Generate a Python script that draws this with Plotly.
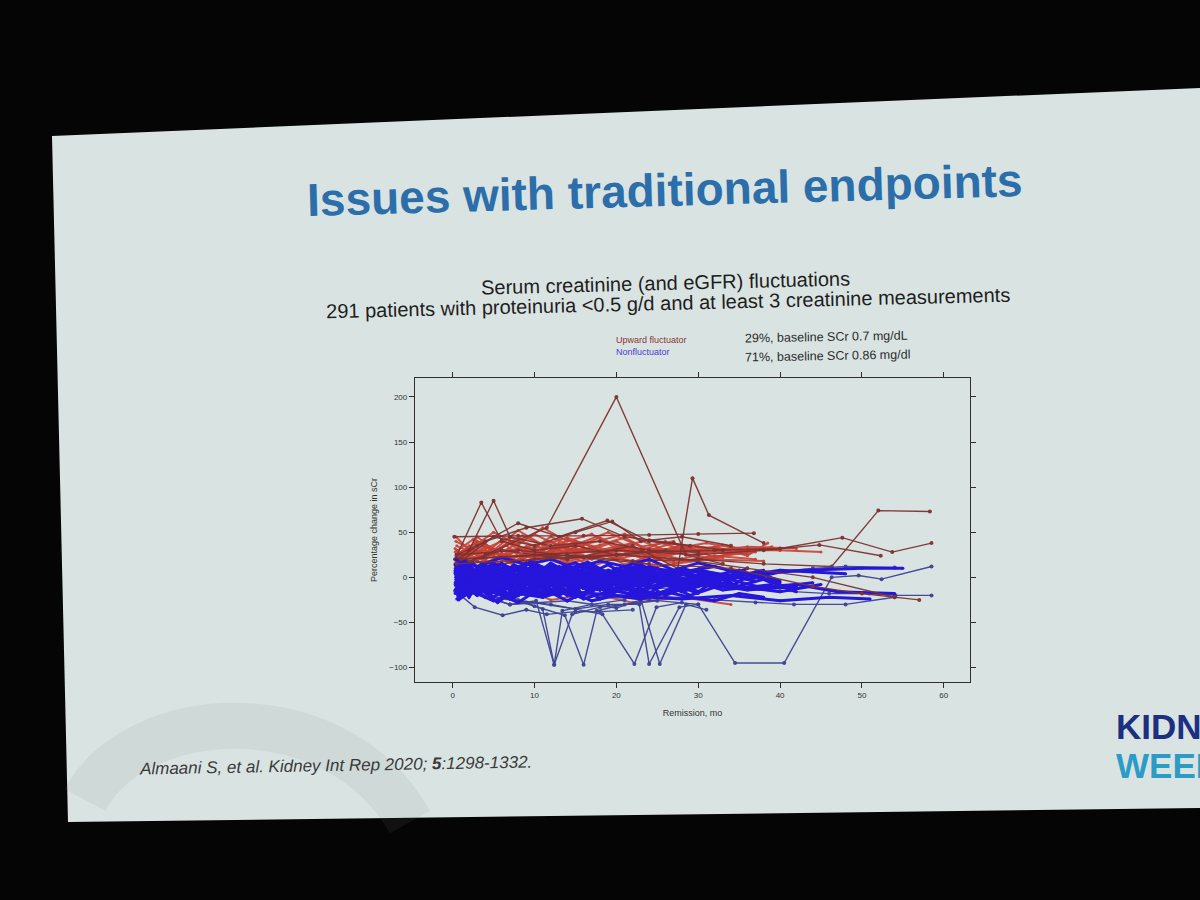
import plotly.graph_objects as go

# ---- data (remission month, % change in sCr) ----
# upward fluctuators, main band
up_months = [
    [0.3, 2, 4, 7, 10, 13, 17, 21, 25, 30],
    [0.5, 3, 6, 9, 12, 16, 20, 24, 28],
    [0.4, 2.5, 5, 8, 11, 14, 18, 22, 27, 32, 36],
    [0.6, 3, 6, 10, 14, 18, 22, 26],
    [0.3, 2, 4.5, 7, 10, 13, 16, 20, 24, 28, 32, 36, 38.5],
    [0.5, 3.5, 7, 11, 15, 19, 24, 30, 35],
    [0.4, 2, 4, 6.5, 9, 12, 15, 18, 21, 25],
    [0.6, 3, 6, 9, 13, 17, 22, 27, 32, 37],
    [0.3, 2.5, 5.5, 8.5, 12, 15.5, 19, 23, 27],
    [0.5, 2, 4, 6, 9, 12, 16, 20, 25, 31, 37],
    [0.4, 3, 7, 11, 16, 21, 26, 31, 36],
    [0.6, 2.5, 5, 8, 11, 14, 17, 21, 25, 29, 33],
    [0.3, 1.5, 3, 5, 8, 11, 14, 18, 22],
    [0.5, 4, 8, 12, 16, 20, 24, 28, 32, 36, 40],
    [0.4, 2, 5, 8, 11, 14, 17, 20],
    [0.6, 3, 6, 10, 14, 19, 25, 31, 38],
    [0.5, 3, 6, 9, 12, 15, 18, 21, 24, 27, 30, 33, 36],
    [0.3, 2, 4, 7, 10, 14, 19, 24, 29, 34, 39],
    [0.5, 5, 10, 15, 20, 25, 30, 35, 40, 45],
    [0.4, 6, 12, 18, 24, 30, 36, 42],
    [0.5, 3, 7, 10, 14, 17, 21, 26],
    [0.5, 4, 8, 12, 17, 22, 28, 34],
]
up_change = [
    [20, 35, 22, 40, 25, 38, 20, 35, 24, 30],
    [30, 18, 42, 26, 45, 28, 40, 22, 36],
    [15, 28, 12, 32, 18, 42, 25, 34, 18, 30, 26],
    [25, 40, 28, 48, 30, 44, 26, 40],
    [10, 25, 16, 30, 20, 36, 22, 32, 18, 28, 34, 24, 38],
    [35, 22, 38, 24, 40, 30, 42, 26, 32],
    [18, 32, 20, 36, 16, 30, 38, 24, 34, 20],
    [22, 10, 26, 14, 30, 12, 28, 16, 24, 20],
    [28, 42, 30, 46, 32, 38, 50, 34, 40],
    [12, 28, 36, 22, 34, 26, 32, 20, 30, 22, 28],
    [40, 28, 44, 32, 36, 48, 30, 38, 30],
    [16, 30, 24, 12, 28, 20, 34, 14, 26, 18, 22],
    [32, 20, 45, 30, 52, 36, 44, 30, 38],
    [20, 30, 18, 34, 22, 30, 26, 36, 22, 32, 30],
    [45, 30, 50, 36, 55, 40, 48, 32],
    [8, 22, 14, 26, 16, 24, 12, 20, 18],
    [26, 38, 24, 34, 40, 28, 36, 44, 30, 38, 28, 36, 30],
    [14, 24, 34, 20, 30, 18, 28, 22, 32, 26, 34],
    [18, 26, 22, 30, 24, 28, 34, 30, 30, 28],
    [24, 30, 34, 28, 32, 28, 34, 32],
    [-5, 10, -8, 5, -12, 2, -10, 0],
    [-15, -20, -10, -25, -18, -28, -22, -30],
]

# upward fluctuators that stand out (spikes, long follow-up)
up_out_months = [
    [0.2, 8, 16, 24, 30, 36.8],
    [0.5, 4, 11.5, 20, 28.5, 33],
    [1, 6, 14, 22, 27.5, 29.3, 31.3, 38],
    [0.3, 3.5, 6, 10, 15, 20, 26],
    [0.5, 2, 5, 7, 12, 18, 24, 30],
    [0.5, 3, 8, 13, 18.9, 24, 29],
    [0.4, 4, 9, 15.8, 21, 27, 33],
    [0.5, 6, 14, 22, 30, 38, 46.3, 52, 58.3],
    [0.5, 8, 16, 24, 32, 40, 47.6, 53.7, 58.5],
    [0.5, 10, 20, 30, 38, 44.8, 52.3],
    [0.6, 5, 10, 15, 19.5, 23, 28, 34],
]
up_out_change = [
    [45, 46, 46, 47, 48, 49],
    [10, 25, 55, 200, 25, 15],
    [15, 30, 20, 35, 10, 110, 69, 38],
    [20, 83, 40, 30, 35, 25, 30],
    [15, 30, 85, 45, 35, 40, 30, 28],
    [25, 35, 60, 45, 63, 40, 35],
    [20, 40, 55, 65, 45, 38, 30],
    [20, 15, 25, 18, 20, 15, 12, 74, 73],
    [25, 30, 22, 28, 30, 32, 44, 28, 38],
    [20, 25, 30, 25, 30, 36, 24],
    [15, 45, 35, 50, 62, 40, 45, 35],
]

# upward fluctuators that drift down late (show over the blue)
up_late_months = [
    [0.5, 10, 20, 28, 36, 44, 54],
    [1, 12, 24, 34, 44, 50, 57],
]
up_late_change = [
    [15, 20, 25, 20, 10, 0, -22],
    [20, 25, 15, 10, -10, -18, -25],
]

# nonfluctuators, main band
non_months = [
    [0.3, 2, 4, 7, 10, 13, 17, 21, 25],
    [0.5, 3, 6, 9, 12, 16, 20, 24, 28, 32],
    [0.4, 1.5, 3.5, 5, 8, 11, 14, 18, 23, 29, 35],
    [0.6, 2.5, 5, 8.5, 12, 15.5, 19, 22.5, 27],
    [0.3, 2, 4.5, 7, 9.5, 13, 16, 20, 24, 30, 36, 40],
    [0.5, 3, 6, 9, 13, 18, 24, 31],
    [0.4, 2, 4, 6, 9, 12, 15, 19, 23, 26, 30, 34, 38],
    [0.7, 3, 5.5, 8, 11, 14.5, 18, 21],
    [0.3, 1.5, 3, 5, 7.5, 10, 13, 16.5, 20, 24, 28],
    [0.5, 2.5, 5, 7.5, 10.5, 14, 17.5, 21, 25, 29, 33],
    [0.4, 2, 4, 7, 10, 14, 19, 25, 31, 37],
    [0.6, 3, 6, 10, 14, 18, 23],
    [0.3, 2, 4.5, 7, 10, 13, 16, 19, 22, 25, 28, 31, 34, 37, 40],
    [0.5, 1.5, 3, 5, 8, 11, 15, 20, 26, 32, 38, 44],
    [0.4, 2.5, 5, 8, 11, 14, 17, 20, 24, 28, 33],
    [0.6, 3.5, 7, 10.5, 14, 18, 22, 26, 30],
    [0.3, 2, 4, 6.5, 9, 12, 15, 18.5, 22, 26, 30, 35],
    [0.5, 2, 4, 6, 8, 11, 14, 17, 21],
    [0.4, 3, 6, 9, 12, 16, 20, 24, 28, 32, 36],
    [0.7, 2.5, 5, 8, 12, 16, 21, 27, 33, 39],
    [0.3, 1.5, 3.5, 6, 9, 12.5, 16, 19.5, 23, 27],
    [0.5, 3, 5.5, 8, 11, 14, 17, 20, 23, 26, 29, 32, 35],
    [0.4, 2, 4, 7, 10, 13, 17, 22, 27],
    [0.6, 2.5, 4.5, 7, 10, 13, 16, 19, 22, 25],
    [0.3, 2, 4.5, 7.5, 11, 15, 19, 24, 30, 36, 42],
    [0.5, 2, 3.5, 6, 9, 12, 15, 18, 21, 24, 27, 30],
    [0.4, 3, 6, 9, 12, 15, 19, 23, 28, 34],
    [0.6, 2, 4, 6, 9, 12, 15, 18, 22, 26, 31],
    [0.3, 2.5, 5, 8, 11, 14, 18, 22, 26, 30, 34, 38, 42],
    [0.5, 1.5, 3, 5, 7, 9, 12, 15, 18, 22],
    [0.4, 3, 6.5, 10, 14, 18, 23, 28, 33, 38],
    [0.7, 2.5, 5, 8, 11, 15, 19, 23],
    [0.3, 2, 4, 6, 8.5, 11, 14, 17, 20, 24, 28, 32, 36, 40],
    [0.5, 3, 6, 9, 12, 15, 18, 21, 25, 29],
    [0.4, 2, 4, 7, 10, 13, 16, 20, 25, 30, 35, 40, 45],
    [0.6, 2.5, 5, 7.5, 10, 13, 16, 19.5, 23, 27, 31, 35, 39],
    [0.5, 6, 12, 18, 24, 30, 36, 42, 47, 54],
    [0.5, 8, 16, 24, 32, 38, 43, 50, 55],
    [0.5, 6, 12, 20, 28, 34, 40, 46, 51],
    [0.4, 3, 6, 9, 12, 15, 18, 21, 24, 27, 30, 33],
    [0.5, 2.5, 5, 8, 11, 14, 17, 20, 23, 26, 29, 32, 35, 38],
    [0.3, 2, 4, 6, 8, 10, 12, 14, 16, 18, 20],
    [0.6, 4, 8, 12, 16, 20, 24, 28, 32, 36, 40, 44, 48],
]
non_change = [
    [5, -8, 10, -3, 12, -6, 4, -10, 2],
    [-12, 3, -15, 8, -5, 14, -9, 6, -14, 0],
    [10, -5, 15, -12, 4, -18, 9, -4, 12, -8, 5],
    [-20, -5, -22, 0, -14, 6, -18, 3, -10],
    [15, 0, 12, -6, 18, 2, -12, 10, -4, 8, -2, 6],
    [-5, -20, -2, -16, 3, -12, -22, -6],
    [0, 12, -10, 6, -14, 10, -3, 14, -8, 4, -16, 8, -2],
    [-25, -10, -28, -8, -20, -2, -24, -12],
    [8, 18, 4, 16, -2, 14, 6, 17, 0, 12, 3],
    [-15, 2, -8, -22, -4, -16, 5, -12, -2, -20, -8],
    [2, -14, 6, -10, 10, -8, 8, -12, 6, -4],
    [18, 5, 15, -2, 12, 0, 14],
    [-8, 6, -18, 2, -12, 8, -20, 4, -6, 10, -14, 0, -10, 6, -4],
    [-2, 10, -6, 12, -10, 4, -14, 6, -8, 2, -12, -6],
    [12, -4, 8, -16, 6, -10, 12, -6, 10, -12, 2],
    [-18, -6, -24, -10, -26, -8, -20, -4, -18],
    [4, -10, 14, -4, 8, -18, 2, -8, 16, -2, 8, -10],
    [-10, 8, -4, 16, -12, 0, -20, 8, -6],
    [6, -16, 2, -8, 14, -12, 4, -18, 8, -6, 10],
    [-22, -12, 0, -18, -6, -24, -10, 2, -14, -8],
    [14, -2, 10, 0, 16, -6, 10, -2, 14, -4],
    [-6, 4, -14, 10, -2, 6, -16, 0, -10, 8, -6, 4, -12],
    [0, -22, 4, -14, -2, -20, 2, -16, -4],
    [10, 16, -4, 6, -8, 12, -4, 6, -10, 4],
    [-14, -2, -18, -6, 4, -12, -2, -20, -6, -14, -10],
    [2, 14, 0, -12, 8, -4, 12, -14, 4, -8, 6, -2],
    [-4, -14, 6, -20, 0, 8, -10, 4, -16, 2],
    [16, 4, -8, 10, -4, 16, 0, -6, 10, -2, 12],
    [-18, -4, -12, 2, -22, -8, -14, 0, -20, -6, -12, -2, -16],
    [8, -6, 2, -16, 6, -2, 10, -10, 2, -6],
    [-8, 10, -2, 12, -6, 8, -4, 10, -2, 8],
    [-24, -8, -16, -28, -10, -22, -6, -18],
    [6, -6, 8, -12, 0, 10, -8, 4, -14, 6, -2, -10, 4, -6],
    [12, 2, 14, -4, 8, 16, 2, 12, -2, 6],
    [-2, -16, -6, -10, -20, -4, -12, -8, -18, -2, -10, -16, -8],
    [0, 8, -4, 14, 2, -10, 6, -4, 12, -8, 0, 8, -6],
    [-5, 0, -8, -4, -10, -2, -12, -8, -16, -18],
    [5, 8, 2, 6, 0, 4, 8, 10, 10],
    [-12, -18, -14, -20, -24, -20, -26, -22, -24],
    [20, 12, 22, 14, 20, 10, 18, 12, 20, 8, 16, 10],
    [-24, -16, -26, -18, -22, -14, -26, -20, -24, -16, -22, -26, -18, -22],
    [-6, 4, -2, 8, 0, -10, 2, -4, 6, -8, 0],
    [10, 2, 12, 4, 14, 0, 10, 6, 12, 2, 8, 6, 4],
]

# nonfluctuators with the big dips / long follow-up
non_out_months = [
    [0.5, 4, 7, 10.2, 12.4, 13.4, 17, 21],
    [0.8, 5, 9, 11, 12.4, 14.6, 18, 23],
    [0.5, 6, 10, 13.7, 16, 17.6, 21, 25],
    [0.5, 6, 12, 18.3, 22.2, 24.9, 28],
    [0.5, 8, 15, 19, 22.8, 24, 27.7, 30],
    [0.5, 7, 14, 20, 23, 25.3, 28.5, 31],
    [0.5, 8, 16, 24, 30, 34.5, 40.5, 46.3, 49.6, 52.4, 58.5],
    [0.5, 10, 20, 30, 40, 46, 50.9, 54.1, 58.5],
    [0.5, 10, 20, 30, 38, 44, 48, 54],
    [0.5, 8, 16, 24, 32, 37, 41.7, 48, 54],
    [0.3, 2.7, 6.1, 9, 11.5, 15, 18, 22],
]
non_out_change = [
    [-10, -22, -30, -26, -97, -37, -30, -25],
    [-5, -15, -28, -35, -97, -41, -33, -28],
    [-8, -20, -32, -42, -97, -37, -30, -26],
    [-12, -24, -30, -41, -96, -33, -28],
    [-15, -25, -35, -30, -30, -96, -33, -30],
    [-10, -30, -26, -34, -25, -96, -30, -36],
    [-10, -15, -20, -25, -30, -95, -95, 0, 2, -2, 12],
    [-10, -5, -15, -10, -15, -18, -18, -20, -20],
    [0, 5, -5, 0, 5, 10, 12, 11],
    [-15, -20, -10, -20, -25, -28, -30, -30, -22],
    [-15, -33, -42, -36, -41, -38, -38, -36],
]

x_ticks = [0, 10, 20, 30, 40, 50, 60]
y_ticks = [-100, -50, 0, 50, 100, 150, 200]

RED = "rgba(200,64,52,0.9)"
RED_DARK = "rgba(125,50,50,0.95)"
BLUE = "#2616dc"
BLUE_DARK = "rgba(62,66,145,0.95)"


def px(x, y):
    # pixel position on the 1200x900 page -> paper coords (margins are 0)
    return x / 1200, 1 - y / 900


def add_group(fig, months, change, color, width, msize):
    for xs, ys in zip(months, change):
        fig.add_trace(go.Scatter(
            x=xs, y=ys, mode="lines+markers",
            line=dict(color=color, width=width),
            marker=dict(color=color, size=msize),
            hoverinfo="x+y", showlegend=False))


fig = go.Figure()
add_group(fig, up_months, up_change, RED, 2.0, 3)
add_group(fig, up_out_months, up_out_change, RED_DARK, 1.4, 4)
add_group(fig, non_out_months, non_out_change, BLUE_DARK, 1.4, 4)
add_group(fig, non_months, non_change, BLUE, 3.0, 3)
add_group(fig, up_late_months, up_late_change, RED_DARK, 1.4, 4)

# slide outline (photo of a projected slide)
tl, tr, br, bl = px(52, 136), px(1200, 88), px(1200, 808), px(68, 822)
slide_path = "M %f,%f L %f,%f L %f,%f L %f,%f Z" % (tl + tr + br + bl)
a0, a1, a2, a3 = px(85, 800), px(135, 705), px(335, 690), px(410, 822)
arc_path = "M %f,%f C %f,%f %f,%f %f,%f" % (a0 + a1 + a2 + a3)

shapes = [
    dict(type="path", path=slide_path, xref="paper", yref="paper",
         fillcolor="#d9e4e2", line=dict(width=0), layer="below"),
    dict(type="path", path=arc_path, xref="paper", yref="paper",
         line=dict(color="rgba(120,132,132,0.10)", width=46), layer="below"),
]


def note(text, x, y, size, color, anchor="center", angle=0, family="Liberation Sans"):
    xx, yy = px(x, y)
    return dict(text=text, x=xx, y=yy, xref="paper", yref="paper",
                xanchor=anchor, yanchor="middle", showarrow=False, textangle=angle,
                font=dict(size=size, color=color, family=family))


annotations = [
    note("<b>Issues with traditional endpoints</b>", 665, 190, 46, "#2b6ea9", angle=-1.6),
    note("Serum creatinine (and eGFR) fluctuations", 665, 283, 20, "#1e1e1e", angle=-1.4),
    note("291 patients with proteinuria <0.5 g/d and at least 3 creatinine measurements",
         668, 303, 20, "#1e1e1e", angle=-1.4),
    note("Upward fluctuator", 614, 340, 9, "#8a3434", anchor="left"),
    note("Nonfluctuator", 614, 352, 9, "#4a3ad0", anchor="left"),
    note("29%, baseline SCr 0.7 mg/dL", 743, 337, 12.5, "#2a2a2a", anchor="left", angle=-1),
    note("71%, baseline SCr 0.86 mg/dl", 743, 356, 12.5, "#2a2a2a", anchor="left", angle=-1),
    note("<i>Almaani S, et al. Kidney Int Rep 2020; <b>5</b>:1298-1332.</i>", 137, 765, 17,
         "#3a3a3a", anchor="left", angle=-1),
    # logo runs off the right edge of the photo
    note("<b>KIDNEY</b>", 1114, 726, 35, "#1d2f80", anchor="left"),
    note("<b>WEEK</b>", 1114, 765, 35, "#2b9cc6", anchor="left"),
]

xd0, _ = px(415, 0)
xd1, _ = px(970, 0)
_, yd1 = px(0, 378)
_, yd0 = px(0, 682)

axis_common = dict(showline=True, linecolor="#2f2f2f", linewidth=1.3, mirror="ticks",
                   ticks="outside", ticklen=5, tickcolor="#2f2f2f", showgrid=False,
                   zeroline=False, tickfont=dict(size=8, color="#333"))

fig.update_layout(
    width=1200, height=900, autosize=False,
    margin=dict(l=0, r=0, t=0, b=0),
    paper_bgcolor="#050505", plot_bgcolor="rgba(0,0,0,0)",
    font=dict(family="Liberation Sans"),
    showlegend=False,
    shapes=shapes, annotations=annotations,
    xaxis=dict(domain=[xd0, xd1], range=[-4.6, 63.2], tickvals=x_ticks,
               title=dict(text="Remission, mo", font=dict(size=9, color="#333"), standoff=10),
               **axis_common),
    yaxis=dict(domain=[yd0, yd1], range=[-116, 221], tickvals=y_ticks,
               title=dict(text="Percentage change in sCr", font=dict(size=9, color="#333"), standoff=10),
               **axis_common),
)

# page body margin would shift the figure by 8px
fig.write_html("out.html", config={"displayModeBar": False},
               post_script="document.body.style.margin='0';")
